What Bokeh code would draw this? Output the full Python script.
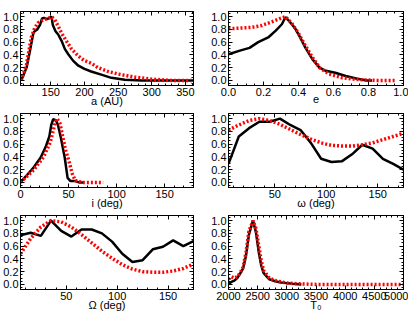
import numpy as np
from bokeh.plotting import figure
from bokeh.layouts import column, row
from bokeh.models import LinearAxis, Range1d, FixedTicker, PrintfTickFormatter, CustomLabelingPolicy
from bokeh.embed import file_html
from bokeh.resources import INLINE

# ---- data ----
a_black_x = [106, 114, 119, 124, 126, 130, 134, 137, 140, 144, 148.5, 151, 153, 157, 161, 166, 171, 176, 183, 191, 200, 210, 225, 240, 260, 285, 310, 335, 362]
a_black_y = [0.0, 0.2, 0.46, 0.74, 0.77, 0.8, 0.87, 0.97, 0.98, 0.96, 0.98, 1.0, 0.87, 0.77, 0.72, 0.62, 0.49, 0.41, 0.31, 0.23, 0.18, 0.14, 0.09, 0.04, 0.01, 0.0, 0.0, 0.0, 0.0]
a_red_x = [106, 114, 121, 126, 131, 139, 146, 151, 156, 161, 166, 173, 181, 191, 200, 210, 220, 235, 250, 275, 300, 330, 362]
a_red_y = [0.0, 0.25, 0.67, 0.82, 0.9, 0.95, 0.97, 1.0, 0.95, 0.85, 0.74, 0.62, 0.49, 0.38, 0.31, 0.27, 0.2, 0.14, 0.1, 0.05, 0.02, 0.0, 0.0]

e_black_x = [0.0, 0.07, 0.12, 0.17, 0.23, 0.27, 0.305, 0.325, 0.34, 0.38, 0.41, 0.44, 0.48, 0.52, 0.556, 0.61, 0.67, 0.73, 0.79, 0.82]
e_black_y = [0.41, 0.47, 0.51, 0.6, 0.68, 0.78, 0.88, 0.99, 0.95, 0.82, 0.67, 0.51, 0.33, 0.2, 0.15, 0.12, 0.07, 0.03, 0.0, 0.0]
e_red_x = [0.0, 0.07, 0.13, 0.19, 0.25, 0.295, 0.325, 0.36, 0.4, 0.44, 0.48, 0.52, 0.575, 0.65, 0.75, 0.85, 0.96]
e_red_y = [0.81, 0.82, 0.83, 0.86, 0.92, 0.97, 1.0, 0.9, 0.74, 0.54, 0.36, 0.2, 0.1, 0.04, 0.01, 0.0, 0.0]

i_black_x = [0, 7, 14, 21, 26, 30, 32, 34, 37, 39, 42, 46, 49, 52, 57, 61, 65]
i_black_y = [0.0, 0.12, 0.24, 0.39, 0.55, 0.72, 0.9, 0.99, 0.97, 0.9, 0.7, 0.39, 0.07, 0.02, 0.02, 0.0, 0.0]
i_red_x = [0, 7, 14, 24, 31, 36, 38, 41, 44, 47, 51, 54, 57, 64, 75, 86]
i_red_y = [0.0, 0.1, 0.2, 0.4, 0.63, 0.93, 1.0, 0.93, 0.71, 0.5, 0.3, 0.13, 0.03, 0.0, 0.0, 0.0]

ang_bins = [5, 15, 25, 35, 45, 55, 65, 75, 85, 95, 105, 115, 125, 135, 145, 155, 165, 175]
w_black_y = [0.29, 0.72, 0.85, 0.95, 0.95, 1.0, 0.9, 0.82, 0.62, 0.37, 0.32, 0.33, 0.44, 0.59, 0.53, 0.37, 0.29, 0.2]
w_red_y = [0.82, 0.9, 0.97, 1.0, 0.97, 0.91, 0.83, 0.75, 0.68, 0.62, 0.58, 0.57, 0.57, 0.59, 0.62, 0.67, 0.72, 0.77]
O_black_y = [0.77, 0.81, 0.76, 1.0, 0.84, 0.75, 0.86, 0.86, 0.8, 0.67, 0.48, 0.35, 0.38, 0.55, 0.59, 0.69, 0.6, 0.68]
O_red_y = [0.48, 0.72, 0.9, 1.0, 0.98, 0.9, 0.78, 0.65, 0.52, 0.41, 0.31, 0.24, 0.2, 0.19, 0.19, 0.21, 0.25, 0.32]

T_black_x = [2000, 2050, 2100, 2150, 2200, 2250, 2300, 2350, 2420, 2470, 2520, 2560, 2600, 2700, 2800, 2900, 3000, 3100, 3250]
T_black_y = [0.0, 0.04, 0.06, 0.1, 0.17, 0.25, 0.45, 0.78, 1.0, 0.82, 0.5, 0.3, 0.18, 0.08, 0.05, 0.03, 0.02, 0.01, 0.0]
T_red_x = [2000, 2050, 2100, 2150, 2200, 2250, 2300, 2350, 2420, 2470, 2520, 2560, 2600, 2700, 2800, 2900, 3000, 3200, 3500, 4000, 4500, 5000]
T_red_y = [0.08, 0.12, 0.1, 0.12, 0.18, 0.27, 0.5, 0.83, 1.0, 0.88, 0.6, 0.38, 0.22, 0.1, 0.06, 0.04, 0.02, 0.01, 0.0, 0.0, 0.0, 0.0]

y_ticks = [0.0, 0.2, 0.4, 0.6, 0.8, 1.0]

FONT = "Liberation Sans"
FS = "11px"


def style_axis(ax, show_labels):
    ax.major_tick_in = 4
    ax.major_tick_out = 0
    ax.minor_tick_in = 2
    ax.minor_tick_out = 0
    ax.axis_line_color = "black"
    ax.major_tick_line_color = "black"
    ax.minor_tick_line_color = "black"
    ax.major_label_text_font = FONT
    ax.major_label_text_color = "black"
    ax.axis_label_text_font = FONT
    ax.axis_label_text_font_style = "normal"
    ax.axis_label_text_font_size = FS
    ax.axis_label_text_color = "black"
    if show_labels:
        ax.major_label_text_font_size = FS
        ax.major_label_standoff = 2
        ax.axis_label_standoff = -4
    else:
        ax.major_label_text_font_size = "1px"
        ax.major_label_standoff = 0
        ax.axis_label_standoff = 0
        ax.major_label_policy = CustomLabelingPolicy(code="return []")


FH = 74


def panel(xlabel, xr, xt, xminor, xfmt, bx, by, rx, ry, fw, left, right, top, bottom):
    p = figure(frame_width=fw, frame_height=FH,
               x_range=Range1d(*xr), y_range=Range1d(-0.08, 1.08),
               output_backend="svg", toolbar_location=None,
               min_border_left=left, min_border_right=right,
               min_border_top=top, min_border_bottom=bottom)
    p.xgrid.visible = False
    p.ygrid.visible = False
    p.outline_line_color = "black"
    p.outline_line_width = 1
    p.background_fill_color = "white"
    p.border_fill_color = "white"
    p.add_layout(LinearAxis(), "right")
    p.add_layout(LinearAxis(), "above")
    y_minor = list(np.round(np.arange(-0.05, 1.08, 0.05), 3))
    xtick = FixedTicker(ticks=xt, minor_ticks=xminor)
    ytick = FixedTicker(ticks=y_ticks, minor_ticks=y_minor)
    for ax in p.below + p.above:
        ax.ticker = xtick
        ax.formatter = PrintfTickFormatter(format=xfmt)
    for ax in p.left + p.right:
        ax.ticker = ytick
        ax.formatter = PrintfTickFormatter(format="%.1f")
    for ax in p.below + p.left:
        style_axis(ax, True)
    for ax in p.above + p.right:
        style_axis(ax, False)
    p.below[0].axis_label = xlabel
    p.line(bx, by, line_color="black", line_width=2.5)
    p.line(rx, ry, line_color="red", line_width=3.5, line_dash="2 2")
    return p


FW1, FW2 = 173, 175
B = 24
T1, T2 = 11, 4

p1 = panel("a (AU)", (105, 362), [150, 200, 250, 300, 350], list(range(110, 362, 10)), "%d",
           a_black_x, a_black_y, a_red_x, a_red_y, FW1, 20, 15, T1, B)
p2 = panel("e", (0, 1), [0.0, 0.2, 0.4, 0.6, 0.8, 1.0], list(np.round(np.arange(0, 1.001, 0.05), 3)), "%.1f",
           e_black_x, e_black_y, e_red_x, e_red_y, FW2, 20, 5, T1, B)
p3 = panel("i (deg)", (0, 180), [0, 50, 100, 150], list(range(0, 181, 10)), "%d",
           i_black_x, i_black_y, i_red_x, i_red_y, FW1, 20, 15, T2, B)
p4 = panel("\u03c9 (deg)", (5, 175), [50, 100, 150], list(range(10, 176, 10)), "%d",
           ang_bins, w_black_y, ang_bins, w_red_y, FW2, 20, 5, T2, B)
p5 = panel("\u03a9 (deg)", (5, 175), [50, 100, 150], list(range(10, 176, 10)), "%d",
           ang_bins, O_black_y, ang_bins, O_red_y, FW1, 20, 15, T2, B)
p6 = panel("T\u2080", (2000, 5000), [2000, 2500, 3000, 3500, 4000, 4500, 5000], list(range(2000, 5001, 100)), "%d",
           T_black_x, T_black_y, T_red_x, T_red_y, FW2, 20, 5, T2, B)

layout = column(row(p1, p2), row(p3, p4), row(p5, p6))

open("out.html", "w").write(file_html(layout, INLINE))
